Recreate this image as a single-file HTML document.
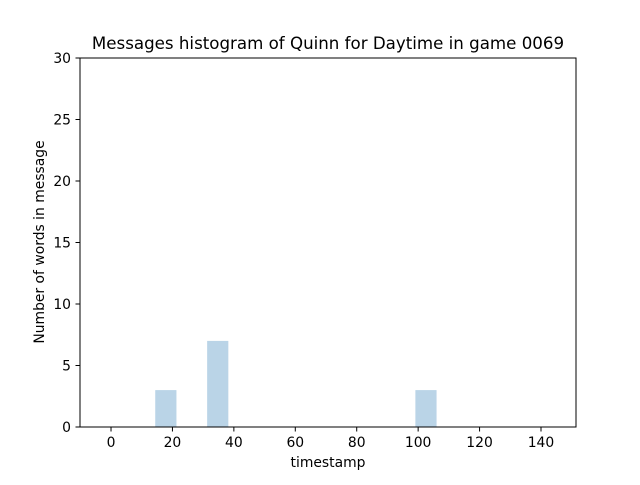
<!DOCTYPE html>
<html><head><meta charset="utf-8"><style>
body{margin:0;background:#fff;}
svg text{font-family:"DejaVu Sans","Liberation Sans",sans-serif;fill:#000;}
</style></head><body>
<svg width="640" height="480">
<rect width="640" height="480" fill="#fff"/>
<g id="bars"></g>
<g id="xt"></g>
<g id="yt"></g>
<rect x="80" y="58" width="496" height="369" fill="none" stroke="#000" stroke-width="1"/>
<text x="328" y="49" font-size="16.67" text-anchor="middle">Messages histogram of Quinn for Daytime in game 0069</text>
<text x="328" y="467" font-size="13.9" text-anchor="middle">timestamp</text>
<text x="44" y="242" font-size="13.9" text-anchor="middle" transform="rotate(-90 44 242)">Number of words in message</text>
</svg>
<script>
const binStarts=[14.4,31.3,99.1];
const binWidth=6.9;
const counts=[3,7,3];
const xTicks=[0,20,40,60,80,100,120,140];
const yTicks=[0,5,10,15,20,25,30];
const X0=80,X1=576,Y0=427,Y1=58,xmin=-10.1,xmax=151.4,ymin=0,ymax=30;
const sx=v=>X0+(v-xmin)/(xmax-xmin)*(X1-X0);
const sy=v=>Y0-(v-ymin)/(ymax-ymin)*(Y0-Y1);
const NS="http://www.w3.org/2000/svg";
function mk(t,a,p){const e=document.createElementNS(NS,t);for(const k in a)e.setAttribute(k,a[k]);p.appendChild(e);return e;}
const bars=document.getElementById('bars');
binStarts.forEach((b,i)=>{const r=mk('rect',{x:sx(b),y:sy(counts[i]),width:sx(b+binWidth)-sx(b),height:sy(0)-sy(counts[i]),fill:'#bad4e7'},bars);

});
const xt=document.getElementById('xt');
xTicks.forEach(v=>{const x=sx(v);mk('line',{x1:x,x2:x,y1:427,y2:431.5,stroke:'#000'},xt);
const t=mk('text',{x:x,y:447,'font-size':13.9,'text-anchor':'middle'},xt);t.textContent=v;

});
const yt=document.getElementById('yt');
yTicks.forEach(v=>{const y=sy(v);mk('line',{x1:75.5,x2:80,y1:y,y2:y,stroke:'#000'},yt);
const t=mk('text',{x:71,y:y+5,'font-size':13.9,'text-anchor':'end'},yt);t.textContent=v;

});
</script>
</body></html>
